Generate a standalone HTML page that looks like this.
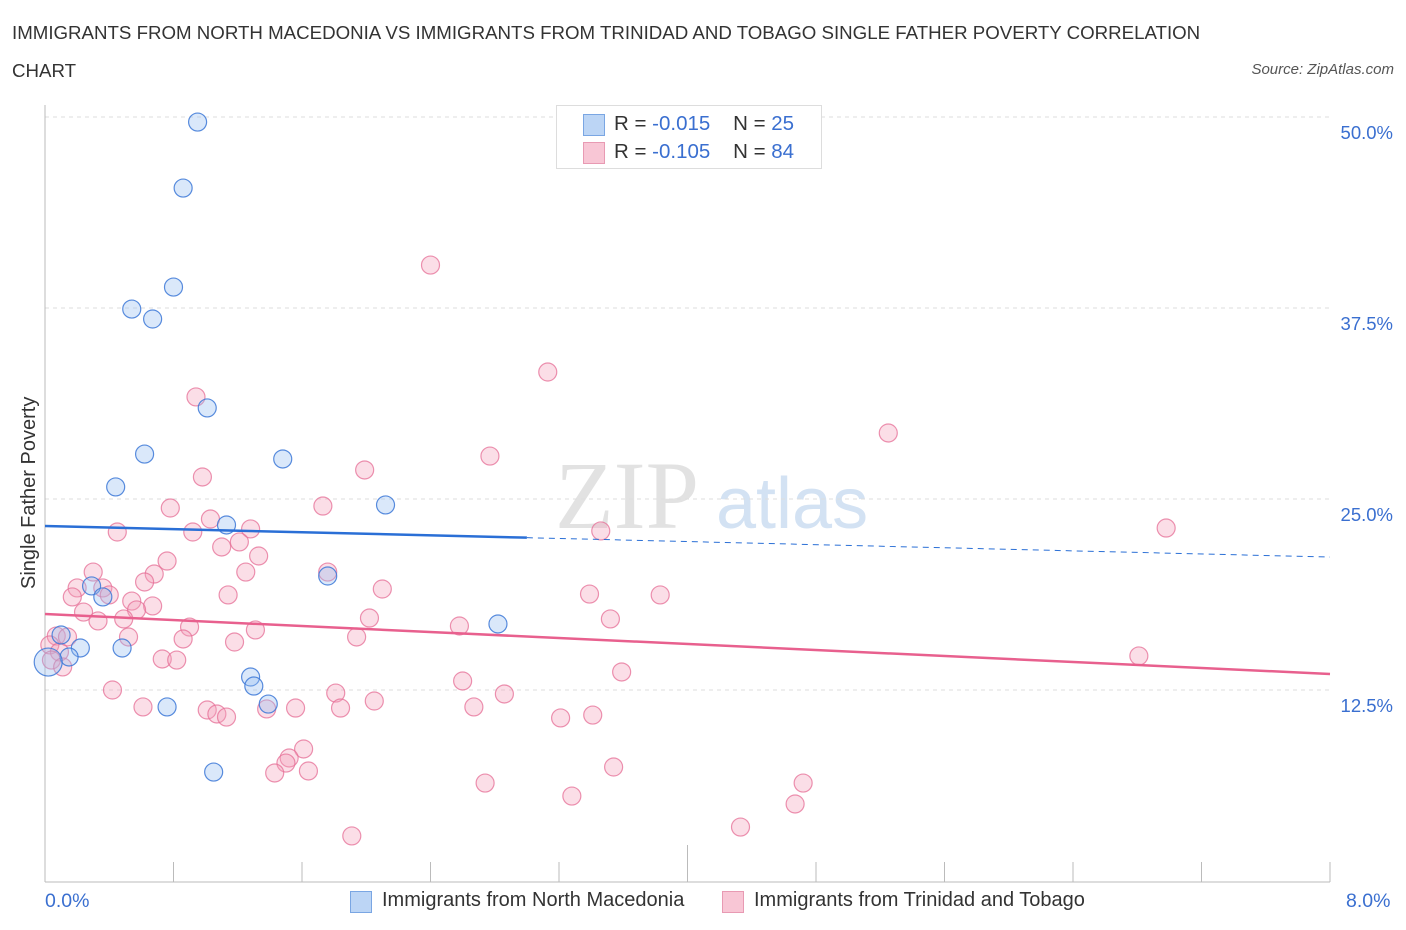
<!DOCTYPE html>
<html><head><meta charset="utf-8"><style>
body{margin:0;background:#fff;font-family:"Liberation Sans",sans-serif;}
#wrap{position:relative;width:1406px;height:930px;overflow:hidden;}
.t{position:absolute;white-space:nowrap;}
</style></head><body>
<div id="wrap">
<div class="t" style="left:12px;top:22px;font-size:18.7px;color:#333;">IMMIGRANTS FROM NORTH MACEDONIA VS IMMIGRANTS FROM TRINIDAD AND TOBAGO SINGLE FATHER POVERTY CORRELATION</div>
<div class="t" style="left:12px;top:60px;font-size:18.7px;color:#333;">CHART</div>
<div class="t" style="right:12px;top:61px;font-size:15px;color:#555;font-style:italic;">Source: ZipAtlas.com</div>
<svg id="chart" width="1406" height="930" style="position:absolute;left:0;top:0"></svg>
</div>
<script>
const yTicks=[12.5,25,37.5,50];
const yTickLabels=["12.5%","25.0%","37.5%","50.0%"];
const xTickVals=[0,0.8,1.6,2.4,3.2,4.0,4.8,5.6,6.4,7.2,8.0];
const blueX=[0.95,0.86,0.80,0.54,0.67,1.01,0.62,1.48,0.44,2.12,1.13,1.76,0.29,0.36,2.82,0.10,0.22,0.48,0.15,0.02,1.28,1.30,1.39,0.76,1.05];
const blueY=[49.67,45.35,38.87,37.43,36.78,30.96,27.94,27.62,25.79,24.61,23.30,19.96,19.31,18.59,16.82,16.10,15.25,15.25,14.66,14.33,13.35,12.76,11.58,11.39,7.13];
const pinkX=[2.40,3.13,0.94,5.25,2.77,1.99,0.98,1.73,0.78,1.03,3.46,0.45,6.98,0.92,1.28,1.21,1.10,1.33,0.76,0.30,1.25,0.68,1.76,0.62,0.20,0.36,2.10,0.17,0.40,1.14,3.39,3.83,0.54,0.67,0.57,0.24,2.02,3.52,0.33,0.49,0.90,2.58,1.31,1.94,0.52,0.86,1.18,0.07,0.14,0.03,0.09,0.04,0.11,0.73,0.82,3.59,6.81,2.60,0.42,1.81,2.86,2.05,0.61,1.01,1.56,1.38,1.84,2.67,1.07,1.13,3.21,3.41,1.61,1.52,1.50,1.43,1.64,3.54,2.74,4.72,3.28,4.67,4.33,1.91];
const pinkY=[40.31,33.31,31.68,29.32,27.81,26.90,26.44,24.54,24.41,23.69,22.91,22.84,23.10,22.84,23.04,22.19,21.86,21.27,20.94,20.22,20.22,20.09,20.22,19.57,19.18,19.18,19.11,18.59,18.72,18.72,18.78,18.72,18.32,18.00,17.74,17.60,17.21,17.15,17.02,17.15,16.62,16.69,16.43,15.97,15.97,15.84,15.64,16.03,15.97,15.45,14.99,14.46,14.01,14.53,14.46,13.68,14.73,13.09,12.50,12.30,12.24,11.78,11.39,11.19,11.32,11.26,11.32,11.39,10.93,10.73,10.67,10.86,8.64,8.05,7.72,7.07,7.20,7.46,6.41,6.41,5.56,5.04,3.53,2.95];
const blueTrend=[23.23,21.20];
const pinkTrend=[17.47,13.55];
const blueSolidEnd=3.0;

const X0=45,X1=1330,Y0=881,PXY=15.28;
const xs=v=>X0+(X1-X0)*v/8;
const ys=v=>Y0-v*PXY;
const svg=document.getElementById('chart');
const NS='http://www.w3.org/2000/svg';
function mk(tag,attrs){const e=document.createElementNS(NS,tag);for(const k in attrs)e.setAttribute(k,attrs[k]);svg.appendChild(e);return e;}

let w=mk('text',{x:555,y:528,'font-size':96,'font-family':'Liberation Serif, serif',fill:'#e2e2e2'});w.textContent='ZIP';


let w2=mk('text',{x:716,y:528,'font-size':72,'font-family':'Liberation Sans, sans-serif',fill:'#d3e2f3'});w2.textContent='atlas';



yTicks.forEach((t,i)=>{
 const g=mk('line',{x1:X0,x2:X1,y1:ys(t),y2:ys(t),stroke:'#dddddd','stroke-dasharray':'4,4'});
 
 
 const l=mk('text',{x:1393,y:ys(t)+22,'text-anchor':'end','font-size':18.5,fill:'#3a6fd0','font-family':'Liberation Sans, sans-serif'});
 l.textContent=yTickLabels[i];
 
 
});
let ax=mk('line',{x1:X0,x2:X0,y1:105,y2:882,stroke:'#bbb'});


let xa=mk('line',{x1:X0,x2:X1,y1:882,y2:882,stroke:'#bbb'});


xTickVals.forEach((t,i)=>{
 const tk=mk('line',{x1:xs(t),x2:xs(t),y1:i==5?845:862,y2:882,stroke:'#bbb'});
 
 
});

function dot(x,y,fill,stroke,r){
 return mk('circle',{cx:xs(x),cy:ys(y),r:r,fill:fill,stroke:stroke,'stroke-width':1.2});
}
pinkX.forEach((x,i)=>{
 const c=dot(x,pinkY[i],'rgba(244,160,185,0.35)','rgba(230,110,150,0.75)',9);
 
 
});
blueX.forEach((x,i)=>{
 const c=dot(x,blueY[i],'rgba(150,190,240,0.35)','rgba(60,120,215,0.85)',i==19?14:9);
 
 
});
const bAt=v=>blueTrend[0]+(blueTrend[1]-blueTrend[0])*v/8;
let bl=mk('line',{x1:xs(0),y1:ys(bAt(0)),x2:xs(blueSolidEnd),y2:ys(bAt(blueSolidEnd)),stroke:'#2a6fd6','stroke-width':2.5});


let bd=mk('line',{x1:xs(blueSolidEnd),y1:ys(bAt(blueSolidEnd)),x2:xs(8),y2:ys(bAt(8)),stroke:'#2a6fd6','stroke-width':1,'stroke-dasharray':'6,5'});


let pl=mk('line',{x1:xs(0),y1:ys(pinkTrend[0]),x2:xs(8),y2:ys(pinkTrend[1]),stroke:'#e8608e','stroke-width':2.5});


</script>
<div class="t" style="left:18px;top:589px;transform:rotate(-90deg);transform-origin:0 0;font-size:20px;color:#333;">Single Father Poverty</div>
<div class="t" style="left:45px;top:890px;font-size:19.5px;color:#3a6fd0;">0.0%</div>
<div class="t" style="left:1346px;top:890px;font-size:19.5px;color:#3a6fd0;">8.0%</div>
<div style="position:absolute;left:556px;top:105px;width:264px;height:62px;border:1px solid #ddd;background:#fff;font-size:20.5px;">
 <div style="position:absolute;left:26px;top:8px;width:20px;height:20px;background:#bcd5f5;border:1px solid #7aa6e3;"></div>
 <div class="t" style="left:57px;top:6px;color:#333;">R = <span style="color:#3a6fd0">-0.015</span>&nbsp;&nbsp;&nbsp; N = <span style="color:#3a6fd0">25</span></div>
 <div style="position:absolute;left:26px;top:36px;width:20px;height:20px;background:#f8c6d5;border:1px solid #e89ab3;"></div>
 <div class="t" style="left:57px;top:34px;color:#333;">R = <span style="color:#3a6fd0">-0.105</span>&nbsp;&nbsp;&nbsp; N = <span style="color:#3a6fd0">84</span></div>
</div>
<div style="position:absolute;left:350px;top:891px;width:20px;height:20px;background:#bcd5f5;border:1px solid #7aa6e3;"></div>
<div class="t" style="left:382px;top:889px;font-size:20px;color:#333;">Immigrants from North Macedonia</div>
<div style="position:absolute;left:722px;top:891px;width:20px;height:20px;background:#f8c6d5;border:1px solid #e89ab3;"></div>
<div class="t" style="left:754px;top:889px;font-size:20px;color:#333;">Immigrants from Trinidad and Tobago</div>
</body></html>
